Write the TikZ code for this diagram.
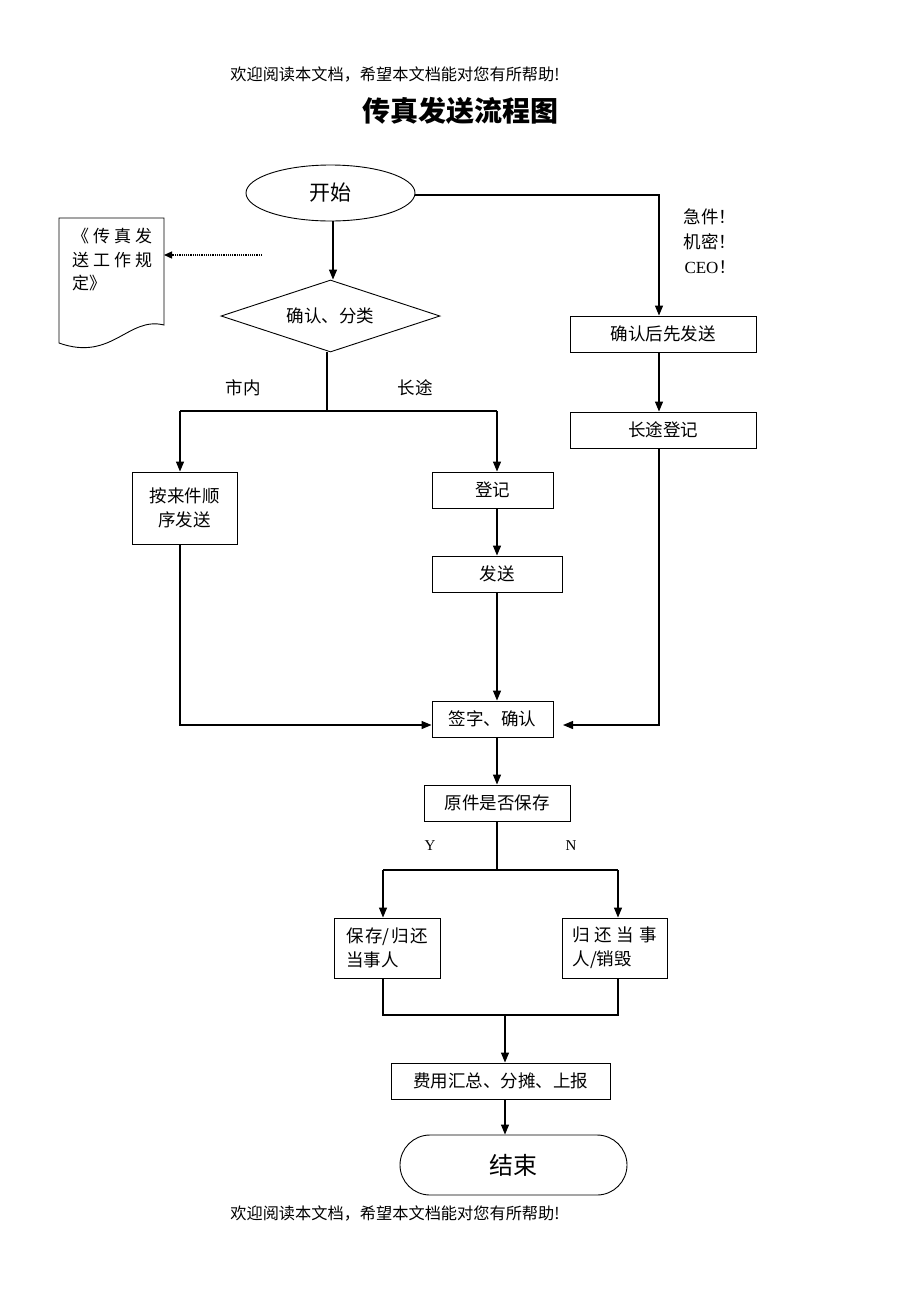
\documentclass[tikz,border=0pt]{standalone}
\usepackage{fontspec}
\setmainfont{Liberation Serif}
\newfontfamily\cjk{Noto Sans CJK SC}
\usetikzlibrary{shapes.geometric,arrows.meta}
\begin{document}
\begin{tikzpicture}[x=1pt,y=-1pt,
  box/.style={draw,line width=0.9pt,rectangle,inner sep=0pt,font=\cjk\fontsize{17.5}{24}\selectfont,align=center},
  lbl/.style={font=\cjk\fontsize{17.5}{20}\selectfont,inner sep=0pt},
  arr/.style={line width=1.2pt,-{Triangle[length=10pt,width=8pt]}},
  ln/.style={line width=1.2pt}]
\useasboundingbox (0,0) rectangle (920,1302);
\fill[white] (0,0) rectangle (920,1302);

% header, title, footer
\node[font=\cjk\fontsize{16.2}{18}\selectfont,inner sep=0pt] (hdr) at (395,75) {欢迎阅读本文档，希望本文档能对您有所帮助!};
\node[font=\cjk\bfseries\fontsize{28}{30}\selectfont,inner sep=0pt] (title) at (460,111) {传真发送流程图};
\node[font=\cjk\fontsize{16.2}{18}\selectfont,inner sep=0pt] (ftr) at (395,1213) {欢迎阅读本文档，希望本文档能对您有所帮助!};

% nodes
\node[draw,line width=0.9pt,ellipse,minimum width=169pt,minimum height=56pt,inner sep=0pt,font=\cjk\fontsize{21}{24}\selectfont] (start) at (330.5,193) {开始};
\node[draw,line width=0.9pt,diamond,aspect=3.04,minimum width=219pt,minimum height=72pt,inner sep=0pt,font=\cjk\fontsize{17.5}{20}\selectfont] (dia) at (330.5,316) {确认、分类};
\node[box,minimum width=186pt,minimum height=36pt] (urgent) at (663,334) {确认后先发送};
\node[box,minimum width=186pt,minimum height=36pt] (ld) at (663,430) {长途登记};
\node[box,minimum width=105pt,minimum height=72pt] (seq) at (184.5,508) {按来件顺\\序发送};
\node[box,minimum width=121pt,minimum height=36pt] (reg) at (492.5,490) {登记};
\node[box,minimum width=130pt,minimum height=36pt] (send) at (497,574) {发送};
\node[box,minimum width=121pt,minimum height=36pt] (sign) at (492.5,719) {签字、确认};
\node[box,minimum width=146pt,minimum height=36pt] (keep) at (497,803) {原件是否保存};
\node[box,minimum width=106pt,minimum height=60pt,text width=82pt,align=left] (save) at (387,948)
  {\makebox[82pt][l]{保\hfill 存/\hfill 归\hfill 还}\\当事人};
\node[box,minimum width=105pt,minimum height=60pt,text width=84pt,align=left] (ret) at (614.5,948)
  {\makebox[84pt][l]{归\hfill 还\hfill 当\hfill 事}\\人/销毁};
\node[box,minimum width=219pt,minimum height=36pt] (fee) at (500.5,1081) {费用汇总、分摊、上报};
\node[draw,line width=0.9pt,rectangle,rounded corners=30pt,minimum width=227pt,minimum height=60pt,inner sep=0pt,font=\cjk\fontsize{24}{26}\selectfont] (end) at (513.5,1165) {结束};

% document shape
\draw[line width=0.9pt] (59,218) -- (164,218) -- (164,325) .. controls (128,316) and (112,362) .. (59,343) -- cycle;
\node[font=\cjk\fontsize{17}{23.5}\selectfont,align=left,inner sep=0pt,anchor=north west,text width=80pt] (doctext) at (72,228)
  {\makebox[80pt][l]{《\hfill 传\hfill 真\hfill 发}\\\makebox[80pt][l]{送\hfill 工\hfill 作\hfill 规}\\定》};
\coordinate (docr) at (164,255);
\coordinate (dots) at (262,255);
\draw[line width=1.2pt,densely dotted,-{Triangle[length=8pt,width=7pt]}] (dots) -- (docr);

% labels
\node[lbl] (l1) at (710,217) {急件！};
\node[lbl] (l2) at (710,242) {机密！};
\node[lbl,font=\fontsize{17}{20}\selectfont] (l3) at (710,267) {CEO\cjk！};
\node[lbl] (lsn) at (243,388) {市内};
\node[lbl] (lct) at (415,388) {长途};
\node[lbl,font=\fontsize{15}{18}\selectfont] (ly) at (430,846) {Y};
\node[lbl,font=\fontsize{15}{18}\selectfont] (lnn) at (571,846) {N};

% columns
\coordinate (rx) at (659,195);
\coordinate (cx) at (497,0);
\coordinate (lx) at (180,0);

% connectors
\draw[arr] (start.south -| 333,0) -- (dia.north -| 333,0);
\draw[arr] (start.east |- rx) -| (urgent.north -| rx);
\draw[arr] (urgent.south -| rx) -- (ld.north -| rx);
\coordinate (sgnr) at (563,725);
\draw[arr] (ld.south -| rx) |- (sgnr);

\coordinate (j1) at (327,411);
\draw[ln] (dia.south -| j1) -- (j1);
\draw[ln] (lx |- j1) -- (cx |- j1);
\draw[arr] (lx |- j1) -- (seq.north -| lx);
\draw[arr] (cx |- j1) -- (reg.north -| cx);
\draw[arr] (reg.south -| cx) -- (send.north -| cx);
\draw[arr] (send.south -| cx) -- (sign.north -| cx);
\draw[arr] (seq.south -| lx) |- (sign.west |- sgnr);
\draw[arr] (sign.south -| cx) -- (keep.north -| cx);

\coordinate (j2) at (497,870);
\coordinate (yx) at (383,870);
\coordinate (nx) at (618,870);
\draw[ln] (keep.south -| cx) -- (j2);
\draw[ln] (yx) -- (nx);
\draw[arr] (yx) -- (save.north -| yx);
\draw[arr] (nx) -- (ret.north -| nx);

\coordinate (j3) at (505,1015);
\draw[ln] (save.south -| yx) |- (j3);
\draw[ln] (ret.south -| nx) |- (j3);
\draw[arr] (j3) -- (fee.north -| j3);
\draw[arr] (fee.south -| j3) -- (end.north -| j3);
\end{tikzpicture}
\end{document}
